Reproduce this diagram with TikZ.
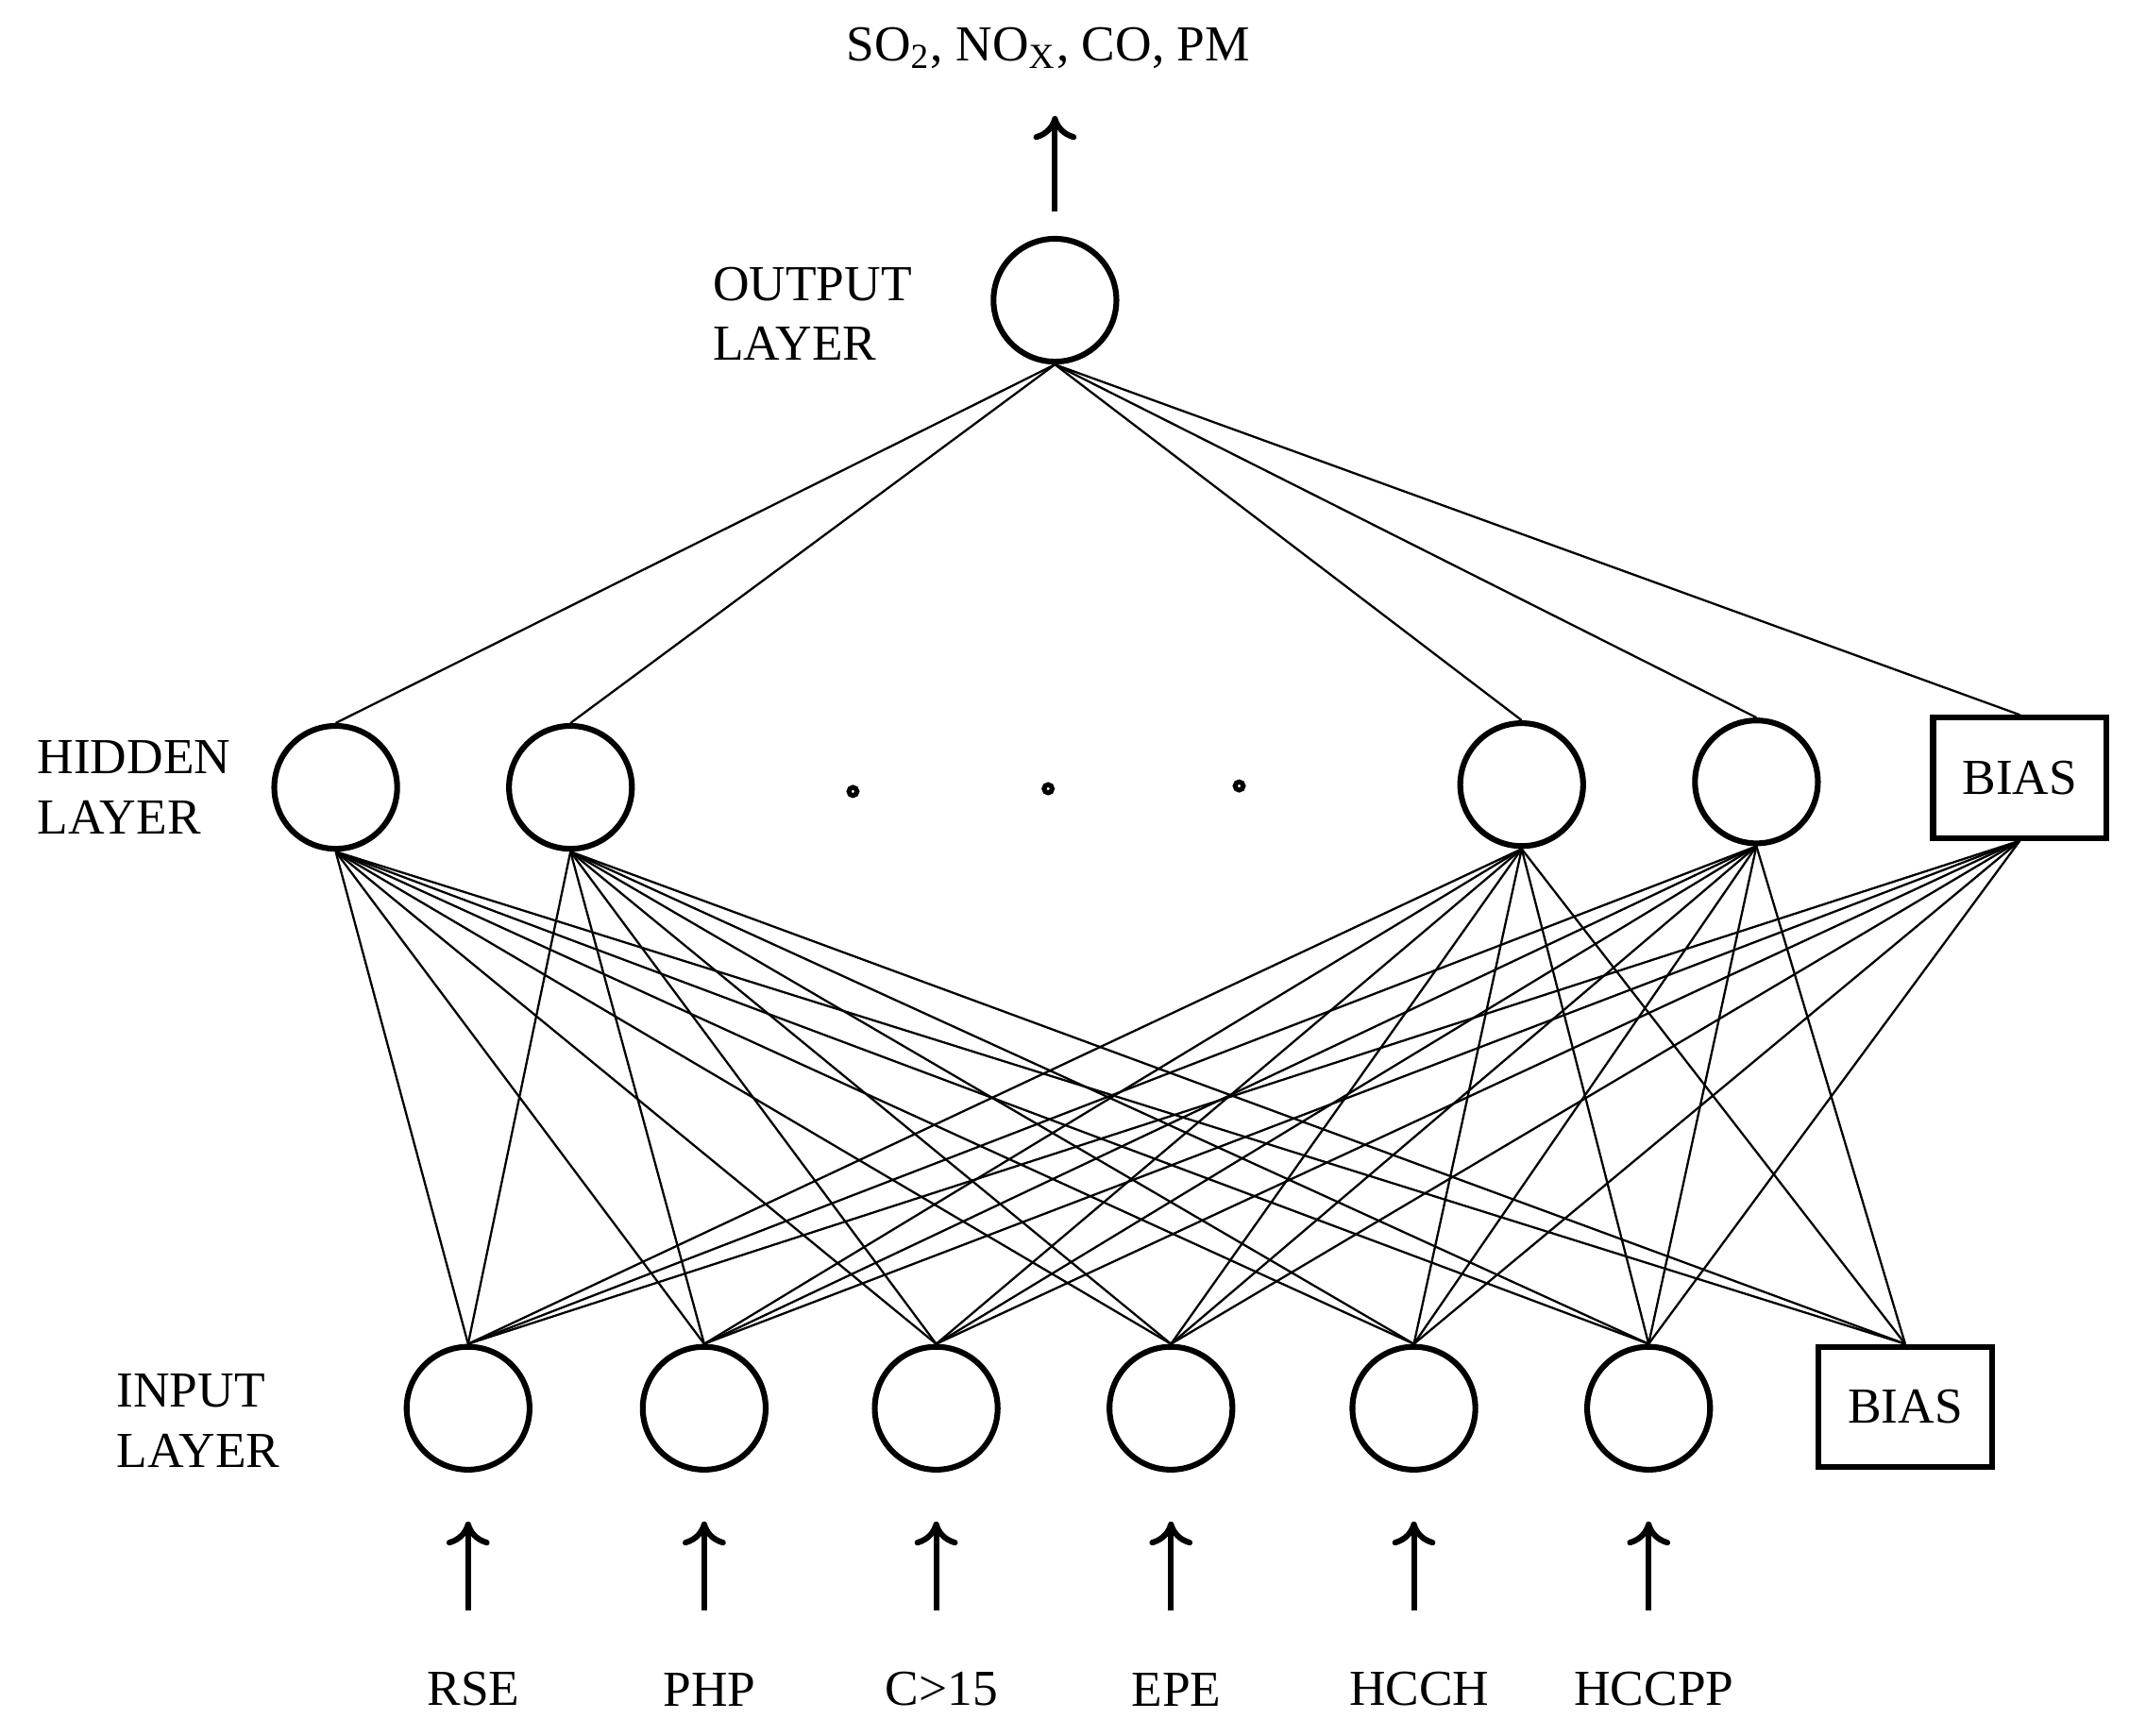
\documentclass[tikz,border=0pt]{standalone}
\usepackage{fontspec}
\setmainfont{Liberation Serif}
\usetikzlibrary{arrows.meta}
\begin{document}
\begin{tikzpicture}[x=0.01cm,y=-0.01cm,
  neuron/.style={circle,draw,line width=1.2pt,minimum size=0.9cm,inner sep=0pt},
  bias/.style={rectangle,draw,line width=1.2pt,minimum width=1.27cm,minimum height=0.88cm,font=\fontsize{10.5}{12.5}\selectfont},
  lbl/.style={font=\fontsize{10.5}{12.5}\selectfont,align=left},
  conn/.style={line width=0.45pt},
  arr/.style={line width=1.2pt,-{To[length=5pt,width=9pt]}}]
\useasboundingbox (0,0) rectangle (1560,1272);
% output
\node[neuron] (o) at (773,220) {};
\coordinate (oa) at (773,155); \coordinate (ob) at (773,85);
\draw[arr] (oa) -- (ob);
\node[lbl] (ot) at (768,35) {SO\textsubscript{2}, NO\textsubscript{X}, CO, PM};
\node[lbl,anchor=west] (ol) at (510,230) {OUTPUT\\LAYER};
% hidden
\node[neuron] (h1) at (246,577) {};
\node[neuron] (h2) at (418,577) {};
\node[neuron] (h3) at (1115,575) {};
\node[neuron] (h4) at (1287,573) {};
\node[bias] (hb) at (1480,570) {BIAS};
\node[lbl,anchor=west] (hl) at (15,577) {HIDDEN\\LAYER};
\foreach \x/\y [count=\i] in {625/580,768/578,908/576}
  \node[circle,draw,line width=1pt,inner sep=0pt,minimum size=0.06cm] (d\i) at (\x,\y) {};
% input
\node[lbl,anchor=west] (il) at (73,1041) {INPUT\\LAYER};
\foreach \x/\t [count=\i] in {343/RSE,516/PHP,686/C>15,858/EPE,1036/HCCH,1208/HCCPP}{
  \node[neuron] (i\i) at (\x,1032) {};
  \coordinate (a\i) at (\x,1180); \coordinate (b\i) at (\x,1115);
  \draw[arr] (a\i) -- (b\i);
  \node[lbl] (t\i) at (\x+4,1238) {\t};
}
\node[bias] (ib) at (1396,1031) {BIAS};
% connections
\foreach \h in {h1,h2,h3,h4,hb} \draw[conn] (o.south) -- (\h.north);
\foreach \h in {h1,h2,h3,h4,hb}
  \foreach \i in {i1,i2,i3,i4,i5,i6} \draw[conn] (\h.south) -- (\i.north);
\foreach \h in {h1,h2,h3,h4} \draw[conn] (\h.south) -- (ib.north);
\end{tikzpicture}
\end{document}
